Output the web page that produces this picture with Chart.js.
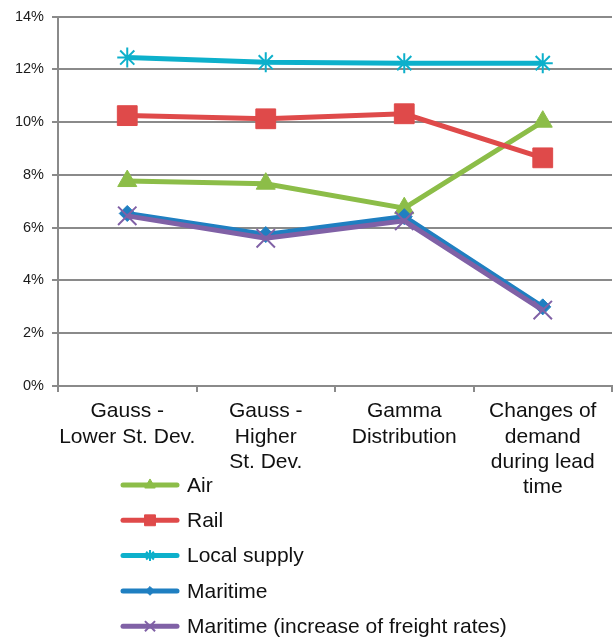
<!DOCTYPE html>
<html>
<head>
<meta charset="utf-8">
<script src="https://cdn.jsdelivr.net/npm/chart.js@4.4.1/dist/chart.umd.min.js"></script>
<style>
  html, body { margin: 0; padding: 0; background: #ffffff; overflow: hidden; }
  #wrap { position: relative; width: 613px; height: 644px; }
  #leadChart { display: block; }
</style>
</head>
<body>
<div id="wrap"><canvas id="leadChart"></canvas></div>
<script>
// Categories (demand scenarios) and series values, in percent
const scenarios = [
    ['Gauss -', 'Lower St. Dev.'],
    ['Gauss -', 'Higher', 'St. Dev.'],
    ['Gamma', 'Distribution'],
    ['Changes of', 'demand', 'during lead', 'time']
];
const airValues = [7.77, 7.67, 6.74, 10.02];
const railValues = [10.25, 10.13, 10.32, 8.65];
const localSupplyValues = [12.45, 12.27, 12.24, 12.24];
const maritimeValues = [6.54, 5.74, 6.42, 3.00];
const maritimeFreightValues = [6.45, 5.60, 6.26, 2.88];
const yTicks = [0, 2, 4, 6, 8, 10, 12, 14];

const FONT = "'Liberation Sans', Arial, sans-serif";
const GRID = '#8a8a8a';

function series(label, data, color, style, radius, order) {
    return {
        label: label,
        data: data,
        borderColor: color,
        backgroundColor: color,
        borderWidth: 5,
        pointStyle: style,
        pointRadius: radius,
        pointHoverRadius: radius,
        pointBackgroundColor: color,
        pointBorderColor: color,
        pointBorderWidth: (style === 'star' || style === 'crossRot') ? 2 : 1,
        tension: 0,
        fill: false,
        order: order
    };
}

const datasets = [
    series('Air', airValues, '#8cbd48', 'triangle', 11, 5),
    series('Rail', railValues, '#df4a4a', 'rect', 14, 4),
    series('Local supply', localSupplyValues, '#0db0cb', 'star', 10, 3),
    series('Maritime', maritimeValues, '#1f7fc1', 'rectRot', 8, 2),
    series('Maritime (increase of freight rates)', maritimeFreightValues, '#8061a6', 'crossRot', 13, 1)
];

// Vertical legend drawn under the category labels
const legendLines = {
    id: 'legendLines',
    afterDraw(chart) {
        const ctx = chart.ctx;
        ctx.save();
        chart.data.datasets.forEach((ds, i) => {
            const y = 485 + i * 35.3;
            ctx.strokeStyle = ds.borderColor;
            ctx.lineWidth = 5;
            ctx.lineCap = 'round';
            ctx.beginPath();
            ctx.moveTo(123, y);
            ctx.lineTo(177, y);
            ctx.stroke();
            ctx.lineCap = 'butt';
            ctx.fillStyle = ds.borderColor;
            ctx.lineWidth = ds.pointBorderWidth;
            Chart.helpers.drawPoint(ctx, {
                pointStyle: ds.pointStyle,
                radius: ds.pointRadius * 0.55,
                borderWidth: ds.pointBorderWidth,
                rotation: 0
            }, 150, y);
            ctx.fillStyle = '#111111';
            ctx.font = '21px ' + FONT;
            ctx.textBaseline = 'middle';
            ctx.textAlign = 'left';
            ctx.fillText(ds.label, 187, y + 1);
        });
        ctx.restore();
    }
};

const ctx = document.getElementById('leadChart').getContext('2d');
new Chart(ctx, {
    type: 'line',
    data: {
        labels: scenarios,
        datasets: datasets
    },
    options: {
        responsive: true,
        maintainAspectRatio: false,
        animation: false,
        // big markers would otherwise push the plot in from the right edge
        layout: {
            autoPadding: false,
            padding: { top: 15, right: 1, left: 0, bottom: 0 }
        },
        plugins: {
            legend: { display: false },
            tooltip: { enabled: false }
        },
        scales: {
            x: {
                offset: true,
                grid: {
                    offset: true,
                    drawOnChartArea: false,
                    drawTicks: true,
                    tickLength: 6,
                    color: GRID,
                    lineWidth: 2
                },
                border: { color: GRID, width: 2 },
                ticks: {
                    color: '#111111',
                    padding: 7,
                    maxRotation: 0,
                    autoSkip: false,
                    font: { family: FONT, size: 21, lineHeight: 1.2 }
                },
                afterFit(scale) {
                    scale.height = 258;
                    scale.paddingLeft = 0;
                    scale.paddingRight = 0;
                }
            },
            y: {
                min: 0,
                max: 14,
                afterBuildTicks(scale) {
                    scale.ticks = yTicks.map(v => ({ value: v }));
                },
                grid: {
                    color: GRID,
                    lineWidth: 2,
                    tickLength: 6
                },
                border: { color: GRID, width: 2 },
                ticks: {
                    color: '#1a1a1a',
                    padding: 8,
                    font: { family: FONT, size: 14.5 },
                    callback: v => v + '%'
                },
                afterFit(scale) { scale.width = 58; }
            }
        }
    },
    plugins: [legendLines]
});
</script>
</body>
</html>
